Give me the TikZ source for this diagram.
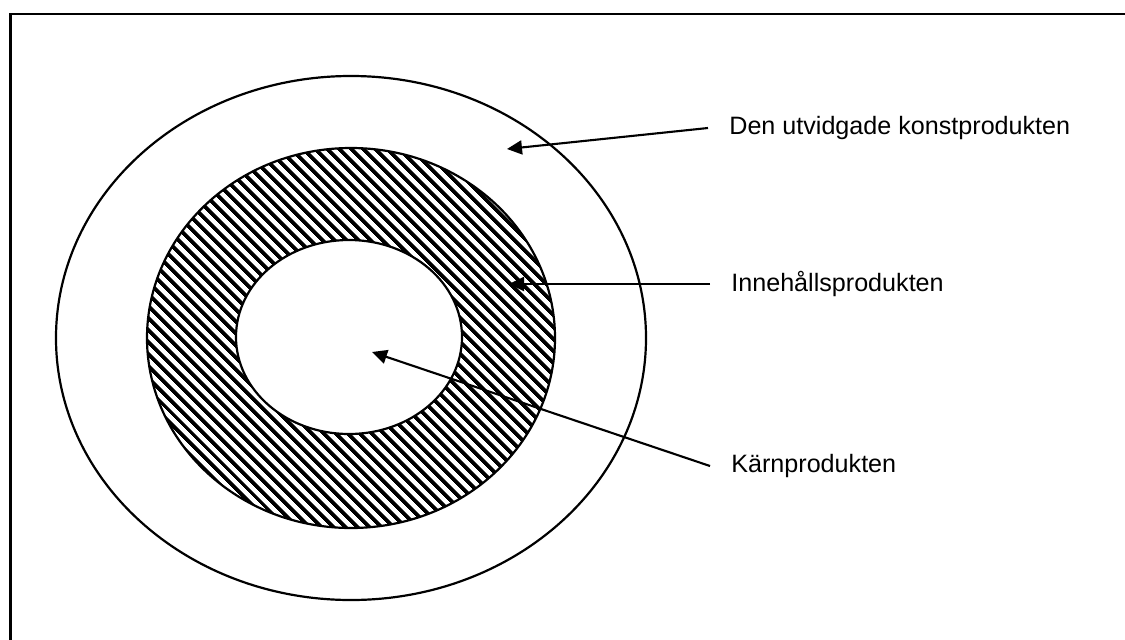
\documentclass[tikz,border=0pt]{standalone}
\usepackage{fontspec}
\setmainfont{Liberation Sans}
\usetikzlibrary{arrows.meta,patterns.meta}

\tikzset{
  ring/.style={draw=black, line width=1.25pt},
  arr/.style={draw=black, line width=1.2pt, -{Triangle[length=0.3cm,width=0.28cm]}},
  lbl/.style={anchor=west, inner xsep=0.42cm, inner ysep=0pt, font=\fontsize{14.3}{17}\selectfont}
}

\begin{document}
\begin{tikzpicture}
        % Canvas and frame (only top and left edges show)
        \clip (-7.02,-6.02) rectangle (15.48,6.76);
        \fill[white] (-7.02,-6.02) rectangle (15.48,6.76);
        \draw[line width=1.4pt] (-6.81,-7) -- (-6.81,6.48) -- (16,6.48);

        % Outer ring - extended product
        \draw[ring] (0,0) ellipse (5.9cm and 5.24cm);

        % Middle ring - hatched
        \draw[ring, pattern={Lines[angle=-45,distance=0.18cm,line width=0.085cm]}, pattern color=black]
              (0,0) ellipse (4.08cm and 3.8cm);

        % Core - white
        \filldraw[ring, fill=white] (-0.04,0.02) ellipse (2.26cm and 1.94cm);

        % Arrow tips
        \coordinate (outertip) at (3.12,3.78);
        \coordinate (midtip) at (3.16,1.08);
        \coordinate (coretip) at (0.42,-0.28);

        % Labels on the right
        \node[lbl] (outer) at (7.14,4.2) {Den utvidgade konstprodukten};
        \node[lbl] (mid) at (7.18,1.08) {Innehållsprodukten};
        \node[lbl] (core) at (7.18,-2.56) {Kärnprodukten};

        % Arrows
        \draw[arr] (outer.west) -- (outertip);
        \draw[arr] (mid.west) -- (midtip);
        \draw[arr] (core.west) -- (coretip);
\end{tikzpicture}
\end{document}
